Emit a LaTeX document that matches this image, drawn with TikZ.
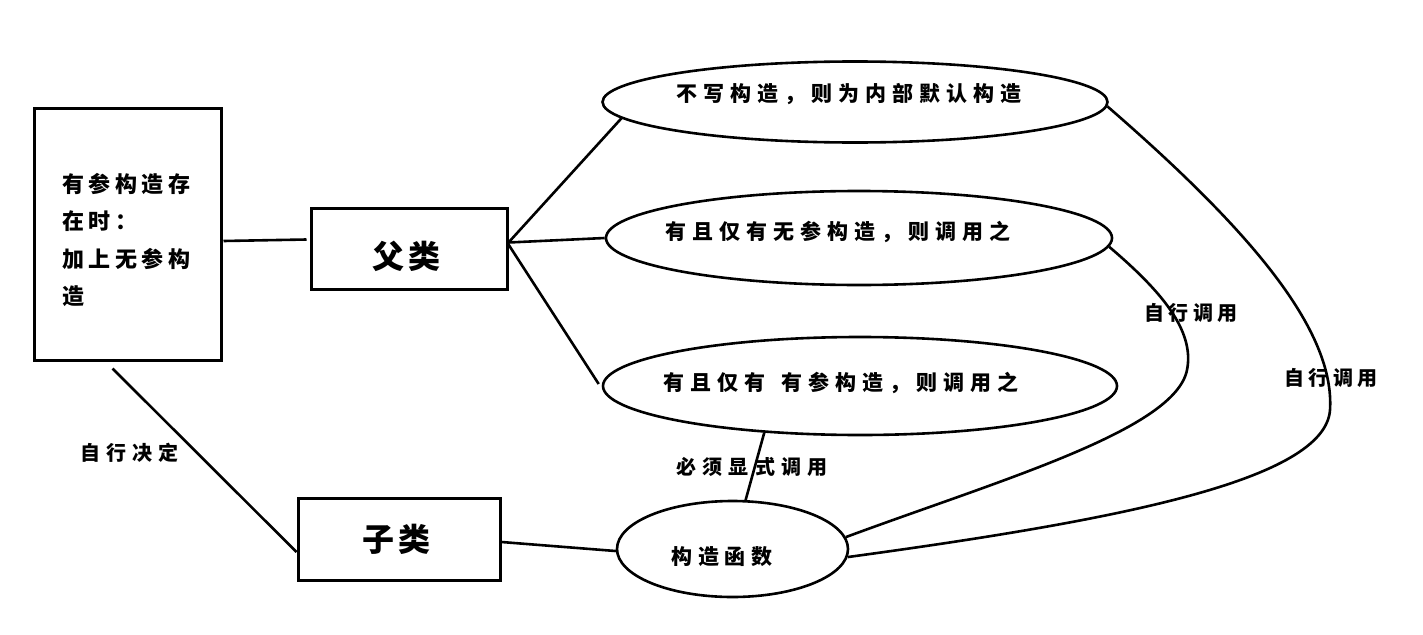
\documentclass[tikz,border=0pt]{standalone}
\usepackage{fontspec}
\newfontfamily\cjk{Noto Sans CJK SC}
\usetikzlibrary{shapes.geometric,calc}
\makeatletter
\newcommand\spc[2]{\def\spcamt{#1}\spcfirst#2\relax}
\def\spcfirst#1{#1\spcloop}
\def\spcloop#1{\ifx#1\relax\else\kern\spcamt#1\expandafter\spcloop\fi}
\makeatother
\begin{document}
\begin{tikzpicture}[x=1pt,y=-1pt,
  box/.style={draw,line width=3pt,rectangle,inner sep=0pt},
  oval/.style={draw,line width=2.6pt,ellipse,inner sep=0pt},
  txt/.style={inner sep=0pt,font=\cjk\bfseries\fontsize{21}{21}\selectfont},
  lbl/.style={inner sep=0pt,font=\cjk\bfseries\fontsize{20}{20}\selectfont},
  big/.style={inner sep=0pt,font=\cjk\bfseries\fontsize{32}{32}\selectfont},
  conn/.style={line width=2.6pt}]
\useasboundingbox[fill=white] (0,0) rectangle (1423,634);
% boxes
\node[box,minimum width=187pt,minimum height=252pt] (lb) at (127.5,234) {};
\node[inner sep=0pt,anchor=west,align=left,font=\cjk\bfseries\fontsize{22}{37.5}\selectfont] (lbt) at (62,240)
  {\spc{4.5pt}{有参构造存}\\\spc{4.5pt}{在时：}\\\spc{4.5pt}{加上无参构}\\造};
\node[box,minimum width=196pt,minimum height=81pt] (fu) at (409,248.5) {};
\node[big] (fut) at (406,256) {\spc{4pt}{父类}};
\node[box,minimum width=202pt,minimum height=82pt] (zi) at (399,539) {};
\node[big] (zit) at (396,539) {\spc{4pt}{子类}};
% ellipses
\node[oval,minimum width=505pt,minimum height=81pt] (e1) at (855,102) {};
\node[txt] (e1t) at (849,94) {\spc{6pt}{不写构造，则为内部默认构造}};
\node[oval,minimum width=506pt,minimum height=94pt] (e2) at (859,238) {};
\node[txt] (e2t) at (838,232) {\spc{6pt}{有且仅有无参构造，则调用之}};
\node[oval,minimum width=514pt,minimum height=98pt] (e3) at (860,386) {};
\node[txt] (e3t) at (841,383) {\spc{6pt}{有且仅有~有参构造，则调用之}};
\node[oval,minimum width=231pt,minimum height=96pt] (e4) at (732.5,549) {};
\node[txt] (e4t) at (722,557) {\spc{5.7pt}{构造函数}};
% labels
\node[lbl] (l1) at (1191,313) {\spc{4.3pt}{自行调用}};
\node[lbl] (l2) at (1331,378) {\spc{4.3pt}{自行调用}};
\node[lbl] (l3) at (752,467) {\spc{6.2pt}{必须显式调用}};
\node[lbl] (l4) at (129,453) {\spc{6pt}{自行决定}};
% connectors
\draw[conn] ($(lb.east)+(1,7)$) -- ($(fu.west)+(-3,-9)$);
\draw[conn] ($(fu.east)+(0,-6)$) -- (e1.184);
\draw[conn] ($(fu.east)+(0,-6)$) -- (e2.180);
\draw[conn] ($(fu.east)+(0,-4)$) -- ($(e3.180)+(-3,-2)$);
\draw[conn] ($(lb.south)+(-15,7)$) -- ($(zi.west)+(0,13)$);
\draw[conn] ($(zi.east)+(0,3)$) -- (e4.181);
\draw[conn] (e3.206) -- (e4.75);
\draw[conn] (e2.358) .. controls (1160,290) and (1195,330) .. (1187,370)
  .. controls (1175,430) and (1000,480) .. (e4.6);
\draw[conn] (e1.359) .. controls (1250,230) and (1335,330) .. (1330,410)
  .. controls (1325,480) and (1120,520) .. (e4.356);
\end{tikzpicture}
\end{document}
